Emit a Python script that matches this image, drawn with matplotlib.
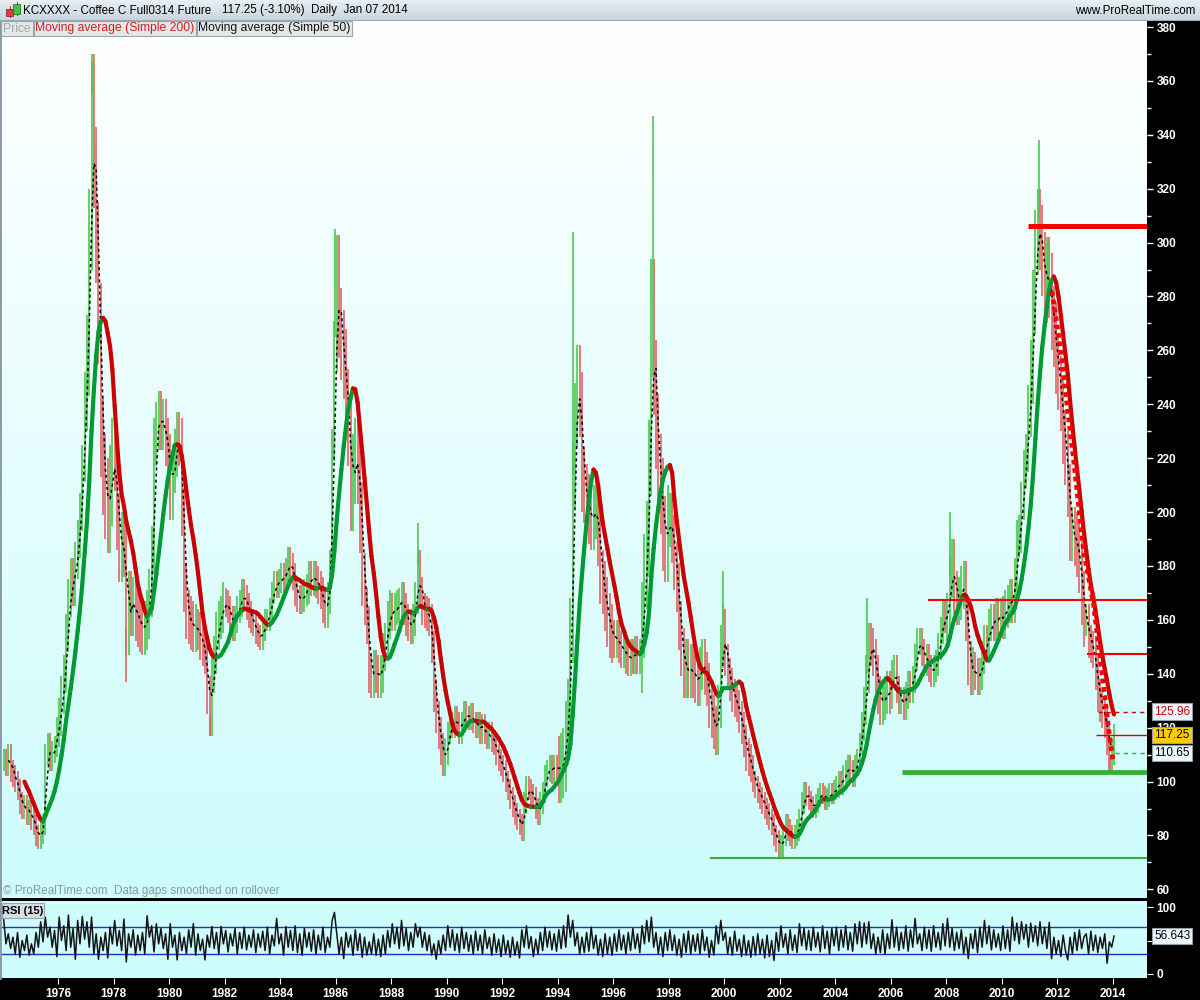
import numpy as np
import pandas as pd
import matplotlib
matplotlib.use("Agg")
import matplotlib.pyplot as plt
from matplotlib.collections import LineCollection
from matplotlib.colors import LinearSegmentedColormap
from matplotlib.patches import Rectangle
from matplotlib.transforms import blended_transform_factory

plt.rcParams['font.family'] = ['Liberation Sans', 'DejaVu Sans']

# ---------------- data (monthly closes) ----------------
FIRST_YEAR = 1974
closes_1970s = [
    108, 106, 110, 104, 102, 100, 97, 92, 90, 91, 88, 89,          # 1974
    86, 84, 80, 79, 81, 84, 110, 114, 108, 111, 113, 120,          # 1975
    124, 132, 140, 155, 168, 176, 172, 182, 190, 200, 218, 245,    # 1976
    258, 305, 355, 328, 300, 270, 228, 214, 205, 200, 210, 220,    # 1977
    218, 196, 184, 190, 186, 157, 168, 164, 166, 162, 160, 158,    # 1978
    156, 158, 162, 170, 186, 226, 232, 236, 232, 233, 226, 220,    # 1979
]
closes_1980s = [
    206, 216, 222, 228, 226, 200, 172, 162, 160, 158, 157, 157,    # 1980
    156, 152, 150, 147, 132, 124, 140, 147, 156, 160, 162, 167,    # 1981
    166, 164, 160, 157, 160, 164, 166, 170, 168, 165, 162, 160,    # 1982
    158, 155, 154, 153, 156, 160, 160, 164, 170, 174, 172, 175,    # 1983
    176, 175, 178, 182, 180, 176, 170, 168, 167, 168, 170, 172,    # 1984
    176, 175, 176, 174, 172, 170, 165, 163, 168, 180, 225, 265,    # 1985
    290, 270, 262, 255, 240, 230, 206, 216, 222, 216, 198, 178,    # 1986
    165, 158, 140, 138, 142, 140, 138, 140, 148, 152, 160, 164,    # 1987
    162, 164, 165, 166, 168, 164, 160, 158, 157, 160, 168, 180,    # 1988
    170, 164, 163, 162, 160, 150, 132, 124, 118, 112, 108, 110,    # 1989
]
closes_1990s = [
    118, 122, 120, 124, 122, 118, 122, 126, 124, 123, 125, 122,    # 1990
    120, 122, 118, 121, 118, 116, 118, 115, 114, 110, 108, 106,    # 1991
    104, 100, 97, 94, 91, 88, 86, 84, 82, 92, 98, 97,              # 1992
    95, 94, 90, 88, 92, 96, 102, 104, 106, 103, 106, 105,          # 1993
    104, 106, 108, 118, 126, 156, 214, 236, 250, 240, 212, 208,    # 1994
    204, 198, 196, 200, 202, 190, 176, 172, 166, 160, 156, 154,    # 1995
    152, 154, 150, 148, 150, 146, 145, 147, 146, 148, 146, 147,    # 1996
    160, 178, 190, 220, 280, 250, 230, 215, 206, 192, 188, 196,    # 1997
    198, 190, 180, 172, 158, 148, 140, 144, 140, 142, 140, 138,    # 1998
    136, 142, 145, 140, 136, 128, 124, 120, 118, 128, 150, 158,    # 1999
]
closes_2000s = [
    145, 140, 136, 132, 130, 128, 124, 120, 115, 110, 108, 106,    # 2000
    100, 98, 96, 94, 92, 90, 88, 86, 84, 80, 78, 76,               # 2001
    76, 80, 84, 82, 80, 79, 80, 82, 86, 92, 96, 95,                # 2002
    93, 91, 90, 92, 94, 96, 95, 93, 94, 96, 95, 97,                # 2003
    98, 100, 99, 102, 104, 106, 104, 102, 106, 108, 114, 122,      # 2004
    128, 140, 152, 150, 146, 140, 132, 128, 130, 132, 134, 132,    # 2005
    140, 142, 134, 130, 130, 128, 132, 136, 134, 138, 146, 152,    # 2006
    152, 148, 144, 146, 142, 140, 142, 144, 150, 156, 162, 160,    # 2007
    162, 176, 182, 170, 166, 168, 172, 174, 160, 144, 140, 142,    # 2008
    140, 138, 140, 146, 152, 150, 158, 160, 158, 162, 160, 162,    # 2009
]
closes_2010s = [
    160, 164, 166, 168, 166, 176, 190, 192, 204, 216, 222, 240,    # 2010
    252, 278, 300, 308, 302, 292, 282, 290, 284, 272, 266, 256,    # 2011
    248, 240, 228, 220, 208, 192, 192, 190, 186, 180, 168, 160,    # 2012
    160, 152, 150, 148, 140, 132, 128, 126, 122, 116, 110, 110,    # 2013
    117.25,                                                        # Jan 2014
]

# typical intramonth trading range (high - low) per calendar year, 1974..2014
yearly_ranges = [8, 8, 14, 30, 20, 18, 18, 14, 10, 8,
                 10, 12, 26, 14, 12, 12, 8, 8, 8, 8,
                 24, 20, 12, 28, 18, 16, 12, 8, 8, 7,
                 8, 14, 10, 10, 16, 12, 14, 24, 20, 12, 8]

# intramonth extremes (wicks)
spike_years = [1977.22, 1978.45, 1981.47, 1985.99, 1988.98, 1994.55, 1997.42,
               1999.95, 2005.15, 2008.15, 2011.33, 2011.67, 2013.90]
spike_values = [367, 137, 117, 305, 196, 304, 347, 178, 168, 200, 338, 300, 104]

# RSI(15) readings
rsi_1970s = [
    82, 45, 60, 38, 55, 30, 62, 25, 50, 35, 58, 28,
    45, 30, 62, 40, 78, 48, 85, 55, 70, 40, 65, 26,
    85, 50, 72, 35, 88, 40, 68, 22, 80, 45, 86, 52,
    78, 40, 85, 30, 60, 22, 55, 35, 62, 24, 70, 45,
    80, 42, 65, 35, 82, 18, 60, 40, 66, 28, 58, 35,
    62, 30, 87, 55, 72, 33, 75, 45, 68, 38, 60, 22,
]
rsi_1980s = [
    75, 40, 58, 21, 62, 35, 55, 30, 66, 40, 75, 28,
    60, 35, 52, 21, 58, 40, 71, 38, 62, 30, 71, 45,
    65, 33, 60, 42, 68, 30, 62, 38, 70, 36, 58, 40,
    66, 32, 60, 40, 64, 35, 70, 30, 58, 42, 83, 45,
    60, 28, 71, 40, 65, 35, 72, 32, 60, 28, 68, 40,
    62, 34, 66, 30, 58, 36, 70, 32, 55, 40, 80, 92,
    60, 30, 55, 23, 62, 40, 58, 28, 66, 35, 60, 25,
    55, 28, 48, 30, 60, 28, 52, 26, 58, 30, 65, 40,
    75, 45, 70, 38, 80, 42, 68, 35, 62, 40, 75, 55,
    70, 40, 62, 35, 58, 28, 45, 22, 50, 30, 58, 35,
]
rsi_1990s = [
    72, 40, 66, 35, 60, 32, 70, 38, 62, 34, 58, 30,
    64, 35, 58, 30, 66, 38, 55, 28, 60, 32, 52, 26,
    58, 30, 50, 25, 55, 28, 48, 24, 66, 40, 72, 38,
    56, 26, 52, 30, 62, 35, 70, 40, 64, 36, 60, 34,
    66, 38, 72, 40, 88, 55, 80, 42, 62, 30, 55, 32,
    62, 34, 70, 38, 58, 28, 52, 26, 60, 30, 55, 28,
    60, 34, 66, 36, 58, 30, 62, 35, 68, 38, 60, 32,
    72, 45, 80, 48, 85, 40, 62, 30, 55, 26, 62, 35,
    66, 35, 58, 28, 52, 25, 60, 32, 64, 30, 58, 34,
    60, 30, 66, 35, 55, 25, 50, 28, 72, 45, 80, 50,
]
rsi_2000s = [
    62, 30, 55, 28, 64, 34, 52, 26, 58, 28, 50, 25,
    56, 28, 60, 30, 52, 24, 58, 26, 50, 20, 62, 34,
    72, 40, 60, 30, 66, 35, 58, 32, 75, 42, 68, 36,
    65, 35, 70, 40, 62, 33, 72, 38, 64, 30, 68, 42,
    70, 35, 66, 40, 72, 36, 62, 34, 75, 45, 78, 40,
    76, 45, 78, 38, 60, 30, 55, 32, 66, 30, 60, 38,
    81, 40, 70, 35, 62, 38, 72, 34, 66, 40, 83, 45,
    60, 35, 70, 38, 66, 34, 72, 40, 62, 36, 75, 42,
    83, 40, 68, 35, 62, 38, 66, 30, 55, 23, 60, 38,
    66, 32, 70, 40, 80, 45, 72, 36, 66, 40, 60, 35,
]
rsi_2010s = [
    72, 38, 66, 34, 85, 50, 76, 45, 78, 52, 74, 40,
    76, 48, 72, 42, 78, 45, 70, 38, 77, 23, 55, 30,
    50, 26, 58, 35, 21, 55, 30, 62, 35, 66, 38, 55,
    60, 30, 64, 35, 58, 32, 55, 38, 60, 16, 48, 40,
    56.643,
]

# support / resistance levels
level_values = [306, 167.5, 147.3, 103.5, 71.7]
level_starts = [2010.94, 2007.34, 2013.07, 2006.40, 1999.49]
level_colors = ['#ff0000', '#ff0000', '#ee0000', '#33b033', '#33b033']
level_widths = [3.6, 1.5, 1.5, 3.4, 1.5]

# hand-drawn dotted red trend line
trend_years = [2011.80, 2011.97, 2012.20, 2012.38, 2012.58, 2012.94, 2013.30, 2013.60, 2013.90, 2014.00]
trend_values = [282, 271, 253, 237, 220, 186, 166, 141, 115, 108]

last_ma200 = 125.96
last_close = 117.25
last_ma50 = 110.65
last_rsi = 56.643

year_ticks = list(range(1976, 2015, 2))
price_ticks = list(range(60, 381, 20))

# ---------------- derived series ----------------
closes = np.array(closes_1970s + closes_1980s + closes_1990s + closes_2000s + closes_2010s, dtype=float)
rsi = np.array(rsi_1970s + rsi_1980s + rsi_1990s + rsi_2000s + rsi_2010s, dtype=float)
dates = FIRST_YEAR + (np.arange(len(closes)) + 0.5) / 12.0
month_range = np.array(yearly_ranges, dtype=float)[np.arange(len(closes)) // 12]
ma200 = pd.Series(closes).rolling(10).mean().to_numpy()
ma50 = pd.Series(closes).rolling(3).mean().to_numpy()

# ---------------- figure layout (pixel based) ----------------
W, H = 1200, 1000
def fx(px): return px / W
def fy(py): return 1 - py / H

XMIN, XMAX = 1973.91, 2015.23
fig = plt.figure(figsize=(12, 10), dpi=100, facecolor='black')

# main price panel
ax = fig.add_axes([0, fy(898), fx(1147), (898 - 20) / H])
bg = LinearSegmentedColormap.from_list('bg', ['#ffffff', '#cdfcfc'])
ax.imshow(np.linspace(0, 1, 256).reshape(-1, 1), extent=(0, 1, 0, 1), transform=ax.transAxes,
          cmap=bg, aspect='auto', zorder=0, interpolation='bilinear')
ax.set_xlim(XMIN, XMAX)
ax.set_ylim(56.8, 382.6)

GREEN_BAR = '#4cc84c'
RED_BAR = '#e06464'
prev = np.concatenate([[closes[0]], closes[:-1]])
cur = closes
up = cur >= prev
lo = np.minimum(prev, cur) - month_range / 2
hi = np.maximum(prev, cur) + month_range / 2
ax.vlines(dates[up], lo[up], hi[up], colors=GREEN_BAR, lw=1.2, zorder=2)
ax.vlines(dates[~up], lo[~up], hi[~up], colors=RED_BAR, lw=1.2, zorder=2)

for yr, val in zip(spike_years, spike_values):
    idx = int(np.argmin(np.abs(dates - yr)))
    base = closes[idx]
    ax.vlines([yr], min(base, val), max(base, val),
              colors=GREEN_BAR if val > base else RED_BAR, lw=1.2, zorder=2)

# MA 50 (black dotted)
v50 = ~np.isnan(ma50)
ax.plot(dates[v50], ma50[v50], color='black', lw=1.1, ls=(0, (2, 2)), zorder=4)

# MA 200 coloured by slope
v200 = ~np.isnan(ma200)
d2, m2 = dates[v200], ma200[v200]
pts = np.column_stack([d2, m2])
segs = np.stack([pts[:-1], pts[1:]], axis=1)
seg_colors = np.where(m2[1:] >= m2[:-1], '#009933', '#cc0000')
ax.add_collection(LineCollection(segs, colors=seg_colors, linewidths=3.0,
                                 capstyle='round', joinstyle='round', zorder=5))

# trend line
ax.plot(trend_years, trend_values, color='#ff0000', lw=3.4, ls=(0, (1, 0.8)), zorder=5)

# levels
for val, st, col, lw in zip(level_values, level_starts, level_colors, level_widths):
    ax.hlines(val, st, XMAX, colors=col, lw=lw, zorder=6)

# last value markers
ax.hlines(last_ma200, 2013.46, XMAX, colors='#cc0000', lw=1.0, linestyles=(0, (3, 3)), zorder=6)
ax.hlines(last_close, 2013.40, XMAX, colors='#dd0000', lw=1.0, zorder=6)
ax.hlines(last_ma50, 2014.08, XMAX, colors='#33aa33', lw=1.0, linestyles=(0, (3, 3)), zorder=6)

# axis styling
for s in ['top', 'right', 'bottom']:
    ax.spines[s].set_visible(False)
ax.spines['left'].set_color('#8898a4')
ax.spines['left'].set_linewidth(2)
ax.set_xticks([])
ax.yaxis.tick_right()
ax.set_yticks(price_ticks)
ax.set_yticks(list(range(70, 381, 20)), minor=True)
ax.tick_params(axis='y', which='both', colors='white', direction='out', labelsize=8.5, pad=3)
ax.tick_params(axis='y', which='major', length=4, width=1)
ax.tick_params(axis='y', which='minor', length=3, width=1)
for lbl in ax.get_yticklabels():
    lbl.set_fontweight('bold')

tr = blended_transform_factory(fig.transFigure, ax.transData)
ax.text(fx(1154), last_ma200, f'{last_ma200:.2f}', transform=tr, color='#cc0000', fontsize=8.5,
        va='center', ha='left', clip_on=False, zorder=10,
        bbox=dict(boxstyle='square,pad=0.18', fc='#eaf6fa', ec='#8fa0ad', lw=0.8))
ax.text(fx(1154), last_close, f'{last_close:.2f}', transform=tr, color='black', fontsize=8.5,
        va='center', ha='left', clip_on=False, zorder=10,
        bbox=dict(boxstyle='square,pad=0.18', fc='#ffcc00', ec='#8fa0ad', lw=0.8))
ax.text(fx(1154), last_ma50, f'{last_ma50:.2f}', transform=tr, color='black', fontsize=8.5,
        va='center', ha='left', clip_on=False, zorder=10,
        bbox=dict(boxstyle='square,pad=0.18', fc='#eaf6fa', ec='#8fa0ad', lw=0.8))

# RSI panel
axr = fig.add_axes([0, fy(978), fx(1147), (978 - 901) / H])
axr.set_facecolor('#cdfdfd')
axr.set_xlim(XMIN, XMAX)
axr.set_ylim(-6, 109)
axr.axhline(70, color='#2a2ad0', lw=1.0, zorder=2)
axr.axhline(30, color='#2a2ad0', lw=1.0, zorder=2)
axr.plot(dates, rsi, color='#151515', lw=1.1, zorder=3)
for s in ['top', 'right', 'bottom']:
    axr.spines[s].set_visible(False)
axr.spines['left'].set_color('#8898a4')
axr.spines['left'].set_linewidth(2)
axr.yaxis.tick_right()
axr.set_yticks([0, 50, 100])
axr.tick_params(axis='y', colors='white', direction='out', length=4, labelsize=8.5, pad=3)
axr.set_xticks(year_ticks)
axr.set_xticklabels([str(y) for y in year_ticks])
axr.tick_params(axis='x', colors='white', direction='out', length=4, labelsize=8.5, pad=3)
for lbl in axr.get_yticklabels() + axr.get_xticklabels():
    lbl.set_fontweight('bold')
trr = blended_transform_factory(fig.transFigure, axr.transData)
axr.text(fx(1154), last_rsi, f'{last_rsi:.3f}', transform=trr, color='black', fontsize=8.5,
         va='center', ha='left', clip_on=False, zorder=10,
         bbox=dict(boxstyle='square,pad=0.18', fc='#eaf6fa', ec='#8fa0ad', lw=0.8))

# header bar
axh = fig.add_axes([0, fy(20), 1, 20 / H])
hb = LinearSegmentedColormap.from_list('hb', ['#e9eff3', '#c8d5de'])
axh.imshow(np.linspace(0, 1, 64).reshape(-1, 1), extent=(0, 1, 0, 1), cmap=hb,
           aspect='auto', interpolation='bilinear')
axh.set_xlim(0, 1); axh.set_ylim(0, 1)
axh.axis('off')
fig.add_artist(Rectangle((0, fy(20.5)), 1, 1 / H, transform=fig.transFigure, fc='#9aa8b2', ec='none'))

# candle icon
fig.add_artist(Rectangle((fx(9.5), fy(18)), 1 / W, 12 / H, transform=fig.transFigure, fc='#c03030', ec='none'))
fig.add_artist(Rectangle((fx(6), fy(16)), 7 / W, 7 / H, transform=fig.transFigure, fc='#e03c3c', ec='#801818', lw=0.5))
fig.add_artist(Rectangle((fx(16.5), fy(16)), 1 / W, 14 / H, transform=fig.transFigure, fc='#208020', ec='none'))
fig.add_artist(Rectangle((fx(13), fy(14)), 7 / W, 10 / H, transform=fig.transFigure, fc='#3cc83c', ec='#186818', lw=0.5))

HDR = 8.4
fig.text(fx(23), fy(10.5), 'KCXXXX - Coffee C Full0314 Future', fontsize=HDR, color='black', va='center', ha='left')
fig.text(fx(222), fy(10.5), '117.25 (-3.10%)', fontsize=HDR, color='black', va='center', ha='left')
fig.text(fx(311), fy(10.5), 'Daily  Jan 07 2014', fontsize=HDR, color='black', va='center', ha='left')
fig.text(fx(1195), fy(10.5), 'www.ProRealTime.com', fontsize=HDR, color='black', va='center', ha='right')

# legend tabs
tabs = [(1, 32, 'Price', '#a8a8a8'),
        (34, 162, 'Moving average (Simple 200)', '#d42020'),
        (197, 155, 'Moving average (Simple 50)', '#141414')]
for x0, w, label, col in tabs:
    fig.add_artist(Rectangle((fx(x0), fy(36)), w / W, 15 / H, transform=fig.transFigure,
                             fc='#e2e7ea', ec='#9aa6ae', lw=0.8))
    fig.text(fx(x0 + w / 2), fy(28.5), label, fontsize=8.7, color=col, va='center', ha='center')

# RSI tab
fig.add_artist(Rectangle((fx(2), fy(918)), 42 / W, 15 / H, transform=fig.transFigure,
                         fc='#d5dde3', ec='#9aa4ac', lw=0.8))
fig.text(fx(23), fy(910.5), 'RSI (15)', fontsize=8, color='black', va='center', ha='center', fontweight='bold')

# footer
fig.text(fx(3), fy(891), '\u00a9 ProRealTime.com  Data gaps smoothed on rollover', fontsize=8.4,
         color='#8a98a4', va='center', ha='left')

fig.savefig('out.png', dpi=100, facecolor='black')
